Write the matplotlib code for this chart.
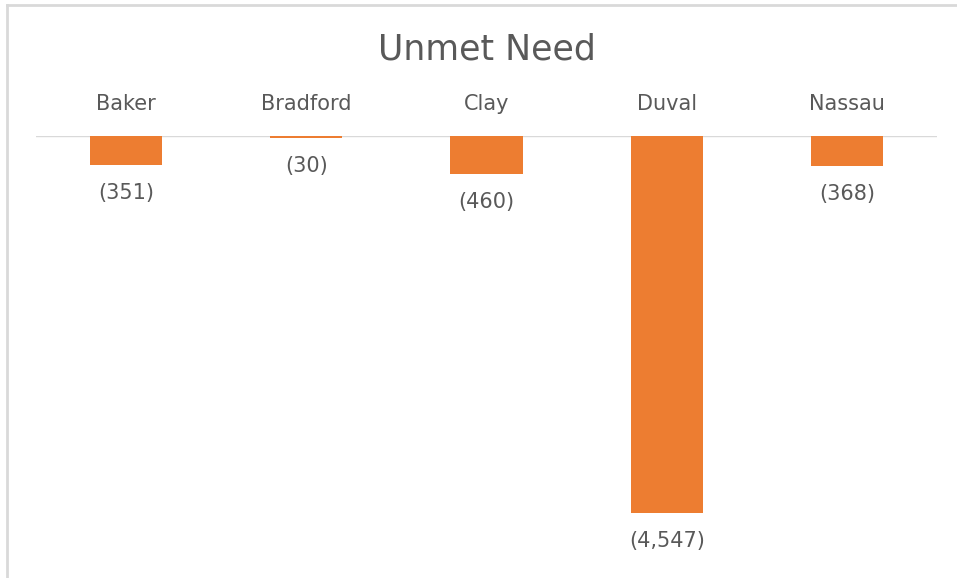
import matplotlib
matplotlib.use("Agg")
import matplotlib.pyplot as plt
from matplotlib.lines import Line2D

categories = ["Baker", "Bradford", "Clay", "Duval", "Nassau"]
values = [-351, -30, -460, -4547, -368]
title = "Unmet Need"

W, H = 957, 578
fig = plt.figure(figsize=(W / 100, H / 100), dpi=100)
plt.rcParams['font.family'] = ['DejaVu Sans']
txt = "#595959"

# outer border (top and left visible)
fig.add_artist(Line2D([7 / W, 1.0], [1 - 5 / H, 1 - 5 / H], transform=fig.transFigure, color="#d9d9d9", lw=2))
fig.add_artist(Line2D([7 / W, 7 / W], [1 - 5 / H, 0.0], transform=fig.transFigure, color="#d9d9d9", lw=2))

ax_left = 36 / W
ax_right = 937 / W
ax_top = 1 - 135.5 / H
ymin = -5000
px_per_unit = 377 / 4547
ax_bottom = 1 - (135.5 + px_per_unit * 5000) / H
ax = fig.add_axes([ax_left, ax_bottom, ax_right - ax_left, ax_top - ax_bottom])

x = list(range(len(categories)))
ax.bar(x, values, width=0.4, color="#ED7D31", zorder=2)
ax.set_xlim(-0.5, len(categories) - 0.5)
ax.set_ylim(ymin, 0)
ax.axhline(0, color="#d9d9d9", lw=1.0, zorder=1)

for s in ax.spines.values():
    s.set_visible(False)
ax.set_yticks([])
ax.set_xticks([])

for xi, c in zip(x, categories):
    ax.annotate(c, (xi, 0), xytext=(0, 31 * 0.72), textcoords="offset points",
                ha="center", va="center", fontsize=15, color=txt)

for xi, v in zip(x, values):
    ax.annotate(f"({abs(v):,})", (xi, v), xytext=(0, -28 * 0.72), textcoords="offset points",
                ha="center", va="center", fontsize=15, color=txt)

fig.text(0.5 * (ax_left + ax_right), 1 - 49 / H, title, ha="center", va="center",
         fontsize=25, color=txt)

fig.savefig("out.png", dpi=100)
